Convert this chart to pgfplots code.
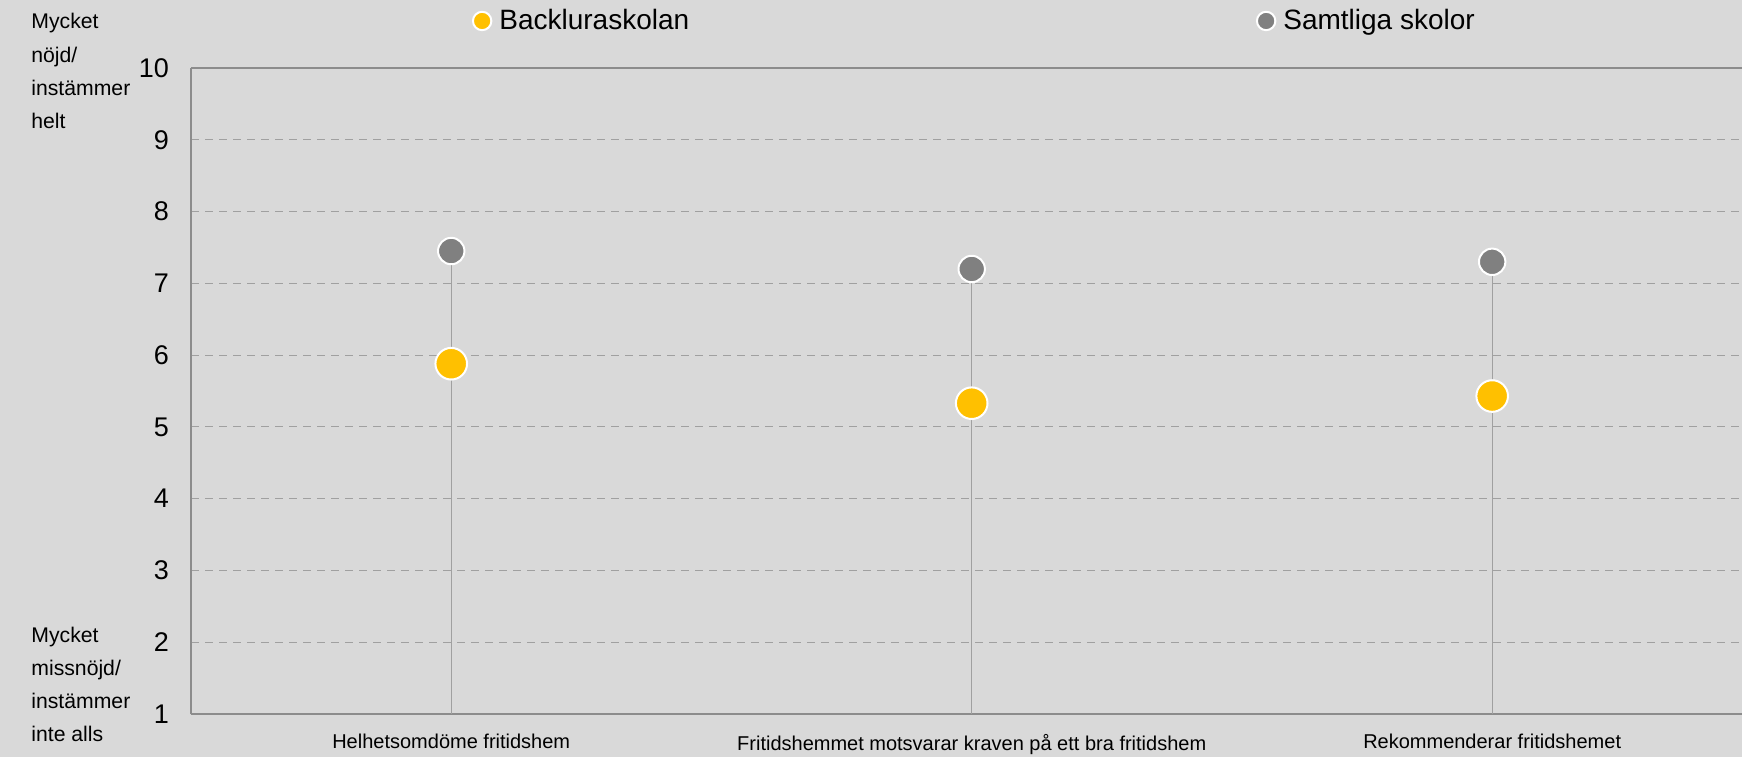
\documentclass[border=0pt]{standalone}
\usepackage{fontspec}
\setmainfont{Liberation Sans}
\usepackage{pgfplots}
\pgfplotsset{compat=1.18}
\definecolor{bg}{HTML}{D9D9D9}
\definecolor{gold}{HTML}{FFC000}
\definecolor{dgray}{HTML}{808080}
\definecolor{gridc}{HTML}{A0A0A0}
\definecolor{axc}{HTML}{8C8C8C}
\begin{document}
\begin{tikzpicture}
\path[use as bounding box, fill=bg] (0,0) rectangle (871pt,378.5pt);
\begin{axis}[
  at={(95.5pt,21.5pt)}, anchor=south west,
  scale only axis, width=775.5pt, height=323pt,
  xmin=-0.5, xmax=2.48, ymin=1, ymax=10,
  xtick={0,1,2},
  xticklabels={Helhetsomdöme fritidshem, Fritidshemmet motsvarar kraven på ett bra fritidshem, Rekommenderar fritidshemet},
  ytick={1,...,9},
  extra y ticks={10},
  extra y tick style={major grid style={draw=axc, solid, line width=0.7pt}},
  ymajorgrids,
  major grid style={draw=gridc, dash pattern=on 4pt off 3pt, line width=0.6pt},
  major tick length=0pt,
  axis x line*=bottom, axis y line*=left,
  axis line style={-, draw=axc, line width=1.1pt},
  yticklabel style={font=\fontsize{13.5}{15}\selectfont, xshift=-7.5pt},
  xticklabel style={font=\fontsize{10}{12}\selectfont, yshift=-6.5pt},
  /pgf/number format/assume math mode=true,
  legend columns=2,
  legend cell align=left,
  legend style={draw=none, fill=none, inner sep=0pt, outer sep=0pt,
    at={(0.1818,1.0728)}, anchor=west,
    font=\fontsize{14}{16}\selectfont,
    /tikz/every odd column/.append style={column sep=2pt},
    /tikz/every even column/.append style={column sep=6.8pt}},
  legend image code/.code={\draw[#1, mark size=4.6pt] plot coordinates {(0pt,0pt)};},
]
\addplot[ycomb, draw=gridc, line width=0.6pt, no marks, forget plot]
  coordinates {(0,7.45) (1,7.2) (2,7.3)};
\addplot[only marks, mark=*, mark size=7.9pt,
  mark options={fill=gold, draw=white, line width=1pt}]
  coordinates {(0,5.88) (1,5.33) (2,5.43)};
\addlegendentry{\makebox[370pt][l]{Backluraskolan}}
\addplot[only marks, mark=*, mark size=6.6pt,
  mark options={fill=dgray, draw=white, line width=1pt}]
  coordinates {(0,7.45) (1,7.2) (2,7.3)};
\addlegendentry{Samtliga skolor}
\end{axis}
\node[anchor=north west, align=left, inner sep=0pt, font=\fontsize{10.6}{16.7}\selectfont]
  at (15.5pt,372pt) {Mycket\\nöjd/\\instämmer\\helt};
\node[anchor=north west, align=left, inner sep=0pt, font=\fontsize{10.6}{16.5}\selectfont]
  at (15.5pt,65pt) {Mycket\\missnöjd/\\instämmer\\inte alls};
\end{tikzpicture}
\end{document}
